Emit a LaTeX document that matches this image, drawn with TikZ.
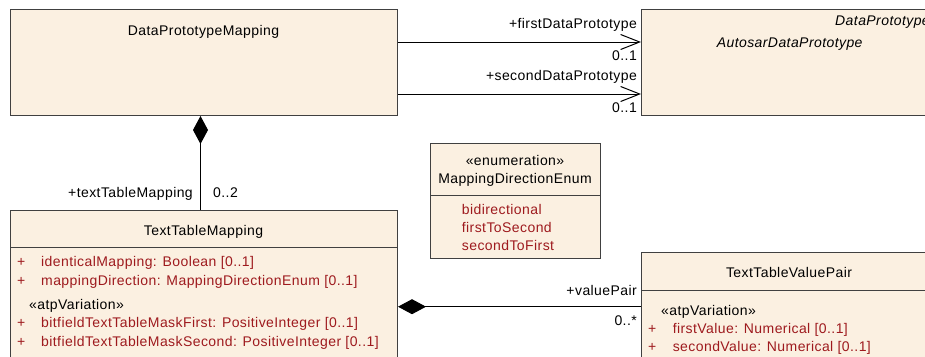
\documentclass[tikz,border=0pt]{standalone}
\usepackage{fontspec}
\setmainfont{Liberation Sans}[LetterSpace=3]
\usepackage{tikz}
\usetikzlibrary{arrows.meta,positioning,calc}
\definecolor{umlfill}{HTML}{FBF0E1}
\definecolor{umlline}{HTML}{404040}
\definecolor{attrred}{HTML}{9E1A1E}

\begin{document}
\begin{tikzpicture}[x=1pt, y=-1pt,
  classbox/.style={draw=umlline, fill=umlfill, line width=1pt, anchor=north west,
                   inner sep=0pt},
  umltext/.style={inner sep=0pt, font=\fontsize{14}{18}\selectfont},
  attr/.style={umltext, text=attrred, anchor=base west},
  lbl/.style={umltext, anchor=base east},
  assoc/.style={draw=black, line width=1pt, -{Straight Barb[length=19pt,width=15pt]}},
  compo/.style={draw=black, line width=1pt, {Diamond[length=28pt,width=15pt]}-},
]
  \useasboundingbox (0,0) rectangle (925,356);
  \clip (0,0) rectangle (925,356);

  % classes
  \node[classbox, minimum width=387pt, minimum height=106pt] (dpm) at (10,9) {};
  \node[classbox, minimum width=300pt, minimum height=106pt] (adp) at (641,9) {};
  \node[classbox, minimum width=387pt, minimum height=170pt] (ttm) at (10,210) {};
  \node[classbox, minimum width=170pt, minimum height=115pt] (enum) at (430,143) {};
  \node[classbox, minimum width=296pt, minimum height=120pt] (ttvp) at (641,252) {};

  % compartments
  \draw[umlline, line width=1pt] ([yshift=-37.7pt]ttm.north west) -- ([yshift=-37.7pt]ttm.north east);
  \draw[umlline, line width=1pt] ([yshift=-52pt]enum.north west) -- ([yshift=-52pt]enum.north east);
  \draw[umlline, line width=1pt] ([yshift=-38pt]ttvp.north west) -- ([yshift=-38pt]ttvp.north east);

  % headers
  \node[umltext, anchor=base] (dpmname) at (203.5,35) {DataPrototypeMapping};
  \node[umltext, anchor=base west, font=\fontsize{14}{18}\selectfont\itshape] (dpname) at (835,25) {DataPrototype};
  \node[umltext, anchor=base west, font=\fontsize{14}{18}\selectfont\itshape] (adpname) at (716.6,47) {AutosarDataPrototype};
  \node[umltext, anchor=base] (ttmname) at (203.5,235) {TextTableMapping};
  \node[umltext, anchor=base] (enumster) at (515,165) {«enumeration»};
  \node[umltext, anchor=base] (enumname) at (515,183.3) {MappingDirectionEnum};
  \node[umltext, anchor=base] (ttvpname) at (789,277.7) {TextTableValuePair};

  % attributes of TextTableMapping
  \node[attr] (ttmp1) at (17,266.7) {+};
  \node[attr] (ttma1) at (41,266.7) {identicalMapping: Boolean [0..1]};
  \node[attr] (ttmp2) at (17,285) {+};
  \node[attr] (ttma2) at (41,285) {mappingDirection: MappingDirectionEnum [0..1]};
  \node[umltext, anchor=base west] (ttmvar) at (29,309.3) {«atpVariation»};
  \node[attr] (ttmp3) at (17,327.7) {+};
  \node[attr] (ttma3) at (41,327.7) {bitfieldTextTableMaskFirst: PositiveInteger [0..1]};
  \node[attr] (ttmp4) at (17,346) {+};
  \node[attr] (ttma4) at (41,346) {bitfieldTextTableMaskSecond: PositiveInteger [0..1]};

  % literals
  \node[attr] (lit1) at (461.7,214) {bidirectional};
  \node[attr] (lit2) at (461.7,232.7) {firstToSecond};
  \node[attr] (lit3) at (461.7,250.7) {secondToFirst};

  % attributes of TextTableValuePair
  \node[umltext, anchor=base west] (ttvpvar) at (661,315) {«atpVariation»};
  \node[attr] (ttvpp1) at (648,333.3) {+};
  \node[attr] (ttvpa1) at (672.6,333.3) {firstValue: Numerical [0..1]};
  \node[attr] (ttvpp2) at (648,351.7) {+};
  \node[attr] (ttvpa2) at (672.6,351.7) {secondValue: Numerical [0..1]};

  % associations
  \draw[assoc] ([yshift=-33pt]dpm.north east) -- ([yshift=-33pt]adp.north west);
  \draw[assoc] ([yshift=-85pt]dpm.north east) -- ([yshift=-85pt]adp.north west);
  \node[lbl] (firstrole) at (637,28) {+firstDataPrototype};
  \node[lbl] (firstmult) at (637,60) {0..1};
  \node[lbl] (secondrole) at (637,80) {+secondDataPrototype};
  \node[lbl] (secondmult) at (637,112) {0..1};

  \draw[compo] ([xshift=-3.5pt]dpm.south) -- ([xshift=-3.5pt]dpm.south |- ttm.north);
  \node[lbl] (ttmrole) at (193,197) {+textTableMapping};
  \node[umltext, anchor=base west] (ttmmult) at (213,197) {0..2};

  \draw[compo] (ttm.east |- 0,306.7) -- (ttvp.west |- 0,306.7);
  \node[lbl] (vprole) at (637,295) {+valuePair};
  \node[lbl] (vpmult) at (637,325) {0..*};
\end{tikzpicture}
\end{document}
